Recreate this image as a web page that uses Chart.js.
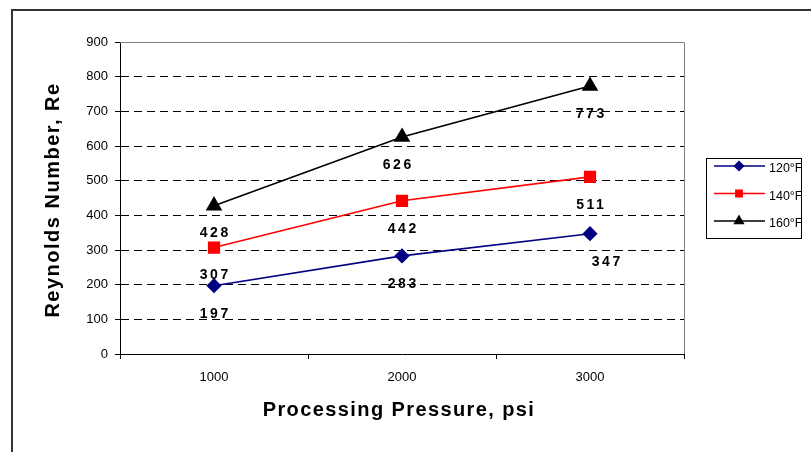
<!DOCTYPE html>
<html>
<head>
<meta charset="utf-8">
<script src="https://cdn.jsdelivr.net/npm/chart.js@4/dist/chart.umd.min.js"></script>
<style>
html,body{margin:0;padding:0;background:#fff;}
canvas{display:block;}
</style>
</head>
<body>
<canvas id="c" width="811" height="452"></canvas>
<script>
// ---- data ----
const categories = ["1000", "2000", "3000"];
const seriesNames = ["120\u00B0F", "140\u00B0F", "160\u00B0F"];
const re120 = [197, 283, 347];
const re140 = [307, 442, 511];
const re160 = [428, 626, 773];
const yTicks = [0, 100, 200, 300, 400, 500, 600, 700, 800, 900];
const xTitle = "Processing Pressure, psi";
const yTitle = "Reynolds Number, Re";

// label nudges (pixels) for the value labels, per series / point
const labelDx = [[0, 0, 16], [0, 0, 0], [0, -5, 0]];
const LABEL_DY = 28;
const FONT = "'Liberation Sans', Arial, sans-serif";

const framePlugin = {
  id: 'frame',
  beforeDraw(chart) {
    const ctx = chart.ctx;
    ctx.save();
    ctx.fillStyle = '#fff';
    ctx.fillRect(0, 0, chart.width, chart.height);
    ctx.restore();
  },
  afterDraw(chart) {
    const ctx = chart.ctx;
    const a = chart.chartArea;
    ctx.save();
    // plot area top / right border
    ctx.strokeStyle = '#808080';
    ctx.lineWidth = 1;
    ctx.beginPath();
    ctx.moveTo(a.left, Math.round(a.top) + 0.5);
    ctx.lineTo(Math.round(a.right) + 0.5, Math.round(a.top) + 0.5);
    ctx.lineTo(Math.round(a.right) + 0.5, a.bottom);
    ctx.stroke();
    // outer chart border
    ctx.strokeStyle = '#333333';
    ctx.lineWidth = 2;
    ctx.beginPath();
    ctx.moveTo(12, chart.height);
    ctx.lineTo(12, 10);
    ctx.lineTo(chart.width, 10);
    ctx.stroke();

    // axis titles
    ctx.fillStyle = '#000';
    ctx.font = "bold 20px " + FONT;
    ctx.letterSpacing = '1.4px';
    ctx.textAlign = 'center';
    ctx.textBaseline = 'middle';
    ctx.fillText(xTitle, 399, 410);
    ctx.save();
    ctx.translate(53, 200);
    ctx.rotate(-Math.PI / 2);
    ctx.letterSpacing = '1.5px';
    ctx.fillText(yTitle, 0, 0);
    ctx.restore();

    // value labels
    ctx.font = "bold 14px " + FONT;
    ctx.letterSpacing = '2.5px';
    chart.data.datasets.forEach((ds, di) => {
      const meta = chart.getDatasetMeta(di);
      meta.data.forEach((pt, i) => {
        ctx.fillText(String(ds.data[i]), pt.x + labelDx[di][i] + 1.25, pt.y + LABEL_DY);
      });
    });

    // legend
    ctx.letterSpacing = '0px';
    const lx = 706, ly = 158, lw = 95, lh = 80;
    ctx.strokeStyle = '#000';
    ctx.lineWidth = 1;
    ctx.strokeRect(lx + 0.5, ly + 0.5, lw, lh);
    ctx.textAlign = 'left';
    chart.data.datasets.forEach((ds, di) => {
      const y = ly + 8 + di * 27.5;
      ctx.strokeStyle = ds.borderColor;
      ctx.lineWidth = 1.5;
      ctx.beginPath();
      ctx.moveTo(lx + 8, y);
      ctx.lineTo(lx + 59, y);
      ctx.stroke();
      ctx.fillStyle = ds.pointBackgroundColor;
      ctx.strokeStyle = ds.pointBorderColor;
      Chart.helpers.drawPoint(ctx, {
        pointStyle: ds.pointStyle,
        radius: ds.pointStyle === 'triangle' ? 5 : 4.5,
        borderWidth: 1,
        rotation: 0
      }, lx + 33, y);
      ctx.fillStyle = '#000';
      ctx.font = "12.5px " + FONT;
      ctx.fillText(ds.label, lx + 63, y + 3);
    });
    ctx.restore();
  }
};

function makeDs(label, data, color, style, r) {
  return {
    label, data,
    borderColor: color,
    backgroundColor: color,
    pointBackgroundColor: color,
    pointBorderColor: color,
    pointStyle: style,
    pointRadius: r,
    pointHoverRadius: r,
    borderWidth: 1.6,
    tension: 0
  };
}

new Chart(document.getElementById('c'), {
  type: 'line',
  data: {
    labels: categories,
    datasets: [
      makeDs(seriesNames[0], re120, '#000080', 'rectRot', 6.5),
      makeDs(seriesNames[1], re140, '#FF0000', 'rect', 7.5),
      makeDs(seriesNames[2], re160, '#000000', 'triangle', 8)
    ]
  },
  plugins: [framePlugin],
  options: {
    responsive: false,
    animation: false,
    devicePixelRatio: 1,
    events: [],
    layout: { padding: { top: 42, right: 127, left: 0, bottom: 0 } },
    plugins: { legend: { display: false }, tooltip: { enabled: false } },
    scales: {
      x: {
        type: 'category',
        offset: true,
        afterFit(s) { s.height = 98; },
        grid: { offset: true, drawOnChartArea: false, tickLength: 5, color: '#000', tickColor: '#000' },
        border: { color: '#000', width: 1 },
        ticks: { color: '#000', padding: 11, font: { family: FONT, size: 13 } }
      },
      y: {
        min: yTicks[0],
        max: yTicks[yTicks.length - 1],
        afterFit(s) { s.width = 120; },
        afterBuildTicks(s) { s.ticks = yTicks.map(v => ({ value: v })); },
        grid: {
          tickLength: 5,
          tickColor: '#000',
          color: (c) => (c.tick && (c.tick.value === 0 || c.tick.value === 900)) ? 'rgba(0,0,0,0)' : '#000',
          lineWidth: 1
        },
        border: { color: '#000', width: 1, dash: [8, 5] },
        ticks: { color: '#000', padding: 7, font: { family: FONT, size: 13 } }
      }
    }
  }
});
</script>
</body>
</html>
